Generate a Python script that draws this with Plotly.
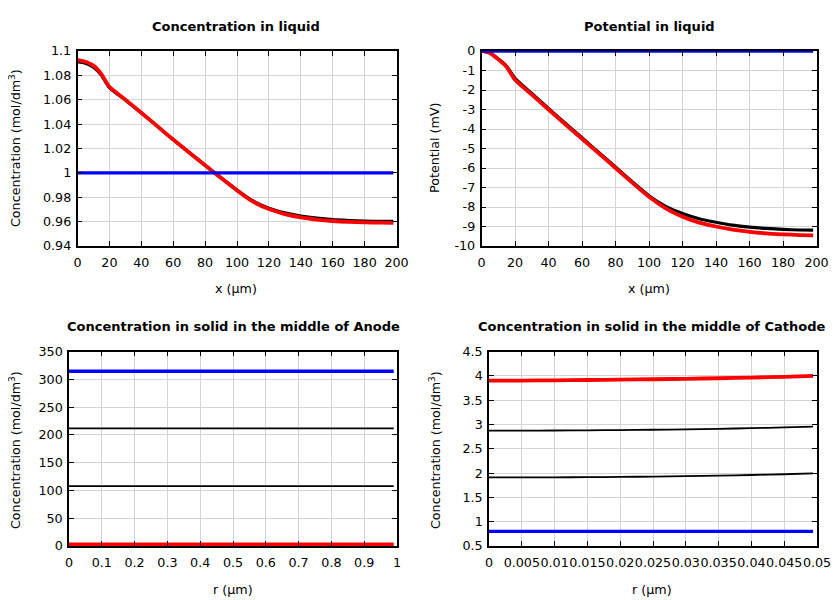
import plotly.graph_objects as go

W, H = 840, 600
OFF = 8  # page body margin offset

# ---------------- data ----------------
# Concentration in liquid
x_liq = [0, 5, 10, 15, 20, 30, 40, 50, 60, 70, 80, 90, 100, 110, 120, 130, 140, 150, 160, 170, 180, 190, 198]
c_liq_black = [1.0912, 1.0900, 1.0868, 1.0802, 1.0700, 1.0598, 1.0492, 1.0383, 1.0273, 1.0168, 1.0063, 0.9960, 0.9860, 0.9770, 0.9710, 0.9672, 0.9646, 0.9628, 0.9616, 0.9609, 0.9604, 0.9602, 0.9602]
c_liq_red = [1.0926, 1.0912, 1.0880, 1.0810, 1.0706, 1.0601, 1.0494, 1.0384, 1.0273, 1.0167, 1.0062, 0.9958, 0.9856, 0.9764, 0.9703, 0.9662, 0.9635, 0.9617, 0.9605, 0.9598, 0.9594, 0.9591, 0.9590]
c_liq_blue = [1.0, 1.0, 1.0, 1.0, 1.0, 1.0, 1.0, 1.0, 1.0, 1.0, 1.0, 1.0, 1.0, 1.0, 1.0, 1.0, 1.0, 1.0, 1.0, 1.0, 1.0, 1.0, 1.0]

# Potential in liquid
p_liq_black = [0.0, -0.10, -0.40, -0.78, -1.40, -2.18, -2.95, -3.70, -4.45, -5.20, -5.95, -6.70, -7.42, -7.97, -8.33, -8.60, -8.78, -8.93, -9.03, -9.10, -9.15, -9.18, -9.19]
p_liq_red = [0.0, -0.11, -0.43, -0.82, -1.48, -2.24, -3.00, -3.76, -4.50, -5.25, -6.00, -6.75, -7.48, -8.07, -8.50, -8.80, -9.00, -9.16, -9.27, -9.35, -9.40, -9.44, -9.46]
p_liq_blue = [0.0] * 23

# Concentration in solid, middle of anode
r_an = [0.0, 0.1, 0.2, 0.3, 0.4, 0.5, 0.6, 0.7, 0.8, 0.9, 0.99]
c_an_blue = [314.5] * 11
c_an_black1 = [211.8] * 11
c_an_black2 = [107.8] * 11
c_an_red = [3.0] * 11

# Concentration in solid, middle of cathode
r_ca = [0.0, 0.005, 0.01, 0.015, 0.02, 0.025, 0.03, 0.035, 0.04, 0.045, 0.0494]
c_ca_red = [3.90, 3.903, 3.908, 3.914, 3.921, 3.929, 3.939, 3.950, 3.964, 3.980, 3.998]
c_ca_black1 = [2.872, 2.873, 2.875, 2.879, 2.884, 2.891, 2.899, 2.910, 2.923, 2.940, 2.957]
c_ca_black2 = [1.912, 1.912, 1.913, 1.916, 1.921, 1.928, 1.936, 1.947, 1.960, 1.976, 1.993]
c_ca_blue = [0.80] * 11

# tick labels
t1x = [0, 20, 40, 60, 80, 100, 120, 140, 160, 180, 200]
t1y = [0.94, 0.96, 0.98, 1.0, 1.02, 1.04, 1.06, 1.08, 1.1]
t1y_txt = ["0.94", "0.96", "0.98", "1", "1.02", "1.04", "1.06", "1.08", "1.1"]
t2y = [0, -1, -2, -3, -4, -5, -6, -7, -8, -9, -10]
t2y_txt = ["0", "-1", "-2", "-3", "-4", "-5", "-6", "-7", "-8", "-9", "-10"]
t3x = [0, 0.1, 0.2, 0.3, 0.4, 0.5, 0.6, 0.7, 0.8, 0.9, 1.0]
t3x_txt = ["0", "0.1", "0.2", "0.3", "0.4", "0.5", "0.6", "0.7", "0.8", "0.9", "1"]
t3y = [0, 50, 100, 150, 200, 250, 300, 350]
t4x = [0, 0.005, 0.01, 0.015, 0.02, 0.025, 0.03, 0.035, 0.04, 0.045, 0.05]
t4x_txt = ["0", "0.005", "0.01", "0.015", "0.02", "0.025", "0.03", "0.035", "0.04", "0.045", "0.05"]
t4y = [0.5, 1, 1.5, 2, 2.5, 3, 3.5, 4, 4.5]
t4y_txt = ["0.5", "1", "1.5", "2", "2.5", "3", "3.5", "4", "4.5"]

# ---------------- layout helpers ----------------
FONT = "DejaVu Sans"
BLUE = "#0000ff"
RED = "#ff0000"
BLACK = "#000000"

def px_dom_x(a, b):
    return [(a - OFF) / W, (b - OFF) / W]

def px_dom_y(top, bottom):
    return [1 - (bottom - OFF) / H, 1 - (top - OFF) / H]

fig = go.Figure()

def add(x, y, color, width, xa, ya):
    fig.add_trace(go.Scatter(x=x, y=y, mode="lines", line=dict(color=color, width=width, shape="spline", smoothing=0.6),
                             xaxis=xa, yaxis=ya, showlegend=False, hoverinfo="skip"))

# plot 1
add(x_liq, c_liq_black, BLACK, 3.2, "x", "y")
add(x_liq, c_liq_red, RED, 3.8, "x", "y")
add(x_liq, c_liq_blue, BLUE, 3.3, "x", "y")
# plot 2
add(x_liq, p_liq_black, BLACK, 3.2, "x2", "y2")
add(x_liq, p_liq_red, RED, 3.8, "x2", "y2")
add(x_liq, p_liq_blue, BLUE, 3.3, "x2", "y2")
# plot 3
add(r_an, c_an_black1, BLACK, 1.8, "x3", "y3")
add(r_an, c_an_black2, BLACK, 1.8, "x3", "y3")
add(r_an, c_an_red, RED, 3.8, "x3", "y3")
add(r_an, c_an_blue, BLUE, 3.3, "x3", "y3")
# plot 4
add(r_ca, c_ca_black1, BLACK, 1.8, "x4", "y4")
add(r_ca, c_ca_black2, BLACK, 1.8, "x4", "y4")
add(r_ca, c_ca_red, RED, 3.8, "x4", "y4")
add(r_ca, c_ca_blue, BLUE, 3.3, "x4", "y4")

axis_common = dict(
    showline=True, linecolor="black", linewidth=1.5, mirror="allticks",
    ticks="inside", ticklen=5, tickwidth=1.2, tickcolor="black",
    showgrid=True, gridcolor="#d4d4d4", gridwidth=1, zeroline=False,
    tickfont=dict(family=FONT, size=12.7, color="black"),
    tickmode="array", fixedrange=True, automargin=False, tickangle=0,
)
xax = dict(axis_common, ticklabelstandoff=4)
yax = dict(axis_common, ticklabelstandoff=2)

P1 = (77.5, 396.5, 51, 246)
P2 = (481.5, 816.5, 51, 246)
P3 = (69, 397, 351.5, 546)
P4 = (489, 817, 351.5, 546)

fig.update_layout(
    width=W, height=H, margin=dict(l=0, r=0, t=0, b=0, pad=0, autoexpand=False),
    paper_bgcolor="white", plot_bgcolor="white",
    font=dict(family=FONT, size=12.7, color="black"),
    xaxis=dict(xax, domain=px_dom_x(P1[0], P1[1]), range=[0, 200], tickvals=t1x, ticktext=[str(v) for v in t1x], anchor="y"),
    yaxis=dict(yax, domain=px_dom_y(P1[2], P1[3]), range=[0.94, 1.1], tickvals=t1y, ticktext=t1y_txt, anchor="x"),
    xaxis2=dict(xax, domain=px_dom_x(P2[0], P2[1]), range=[0, 200], tickvals=t1x, ticktext=[str(v) for v in t1x], anchor="y2"),
    yaxis2=dict(yax, domain=px_dom_y(P2[2], P2[3]), range=[-10, 0], tickvals=t2y, ticktext=t2y_txt, anchor="x2"),
    xaxis3=dict(xax, domain=px_dom_x(P3[0], P3[1]), range=[0, 1], tickvals=t3x, ticktext=t3x_txt, anchor="y3"),
    yaxis3=dict(yax, domain=px_dom_y(P3[2], P3[3]), range=[0, 350], tickvals=t3y, ticktext=[str(v) for v in t3y], anchor="x3"),
    xaxis4=dict(xax, domain=px_dom_x(P4[0], P4[1]), range=[0, 0.05], tickvals=t4x, ticktext=t4x_txt, anchor="y4"),
    yaxis4=dict(yax, domain=px_dom_y(P4[2], P4[3]), range=[0.5, 4.5], tickvals=t4y, ticktext=t4y_txt, anchor="x4"),
)

def ann(text, x, y, size=12.7, bold=False, angle=0):
    fig.add_annotation(text=f"<b>{text}</b>" if bold else text, x=(x - OFF) / W, y=1 - (y - OFF) / H,
                       xref="paper", yref="paper",
                       showarrow=False, textangle=angle, xanchor="center", yanchor="middle",
                       font=dict(family=FONT, size=size, color="black"))

# titles
ann("Concentration in liquid", 236, 26, size=13, bold=True)
ann("Potential in liquid", 649, 26, size=13, bold=True)
ann("Concentration in solid in the middle of Anode", 233, 326, size=13, bold=True)
ann("Concentration in solid in the middle of Cathode", 652, 326, size=13, bold=True)
# x-axis titles
ann("x (µm)", 236, 289)
ann("x (µm)", 649, 289)
ann("r (µm)", 233, 589)
ann("r (µm)", 652, 589)
# y-axis titles
ann("Concentration (mol/dm<sup>3</sup>)", 15, 148, angle=-90)
ann("Potential (mV)", 434, 148, angle=-90)
ann("Concentration (mol/dm<sup>3</sup>)", 15, 450, angle=-90)
ann("Concentration (mol/dm<sup>3</sup>)", 435, 450, angle=-90)

fig.write_html("out.html")
